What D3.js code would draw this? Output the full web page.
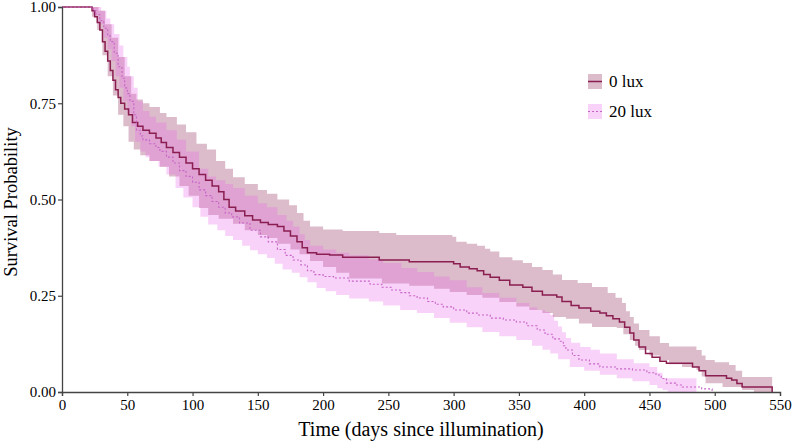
<!DOCTYPE html>
<html>
<head>
<meta charset="utf-8">
<script src="https://cdn.jsdelivr.net/npm/d3@7"></script>
<style>
body { margin: 0; background: #fff; }
svg { display: block; }
text { font-family: "Liberation Serif", "Times New Roman", serif; }
</style>
</head>
<body>
<svg id="chart" width="793" height="441"></svg>
<script>
// ---------- data ----------
const groups = ["0 lux", "20 lux"];
const xTicks = [0, 50, 100, 150, 200, 250, 300, 350, 400, 450, 500, 550];
const yTicks = [0, 0.25, 0.5, 0.75, 1.0];
const yTickLabels = ["0.00", "0.25", "0.50", "0.75", "1.00"];

// 0 lux : Kaplan-Meier estimate [time, survival]
const surv0 = [[0,1.00],[23,0.99],[25,0.975],[27,0.96],[29,0.94],[31,0.91],[33,0.885],[35,0.86],[37,0.835],[39,0.81],[41,0.785],[43,0.765],[45,0.75],[48,0.735],[51,0.72],[54,0.70],[58,0.69],[62,0.68],[67,0.672],[72,0.66],[76,0.648],[80,0.635],[85,0.622],[90,0.61],[95,0.595],[100,0.58],[105,0.565],[110,0.55],[115,0.535],[120,0.52],[124,0.50],[128,0.48],[133,0.47],[140,0.458],[146,0.447],[152,0.44],[158,0.435],[165,0.43],[170,0.418],[175,0.405],[180,0.39],[184,0.375],[188,0.362],[195,0.358],[205,0.356],[215,0.35],[243,0.343],[266,0.338],[300,0.333],[305,0.325],[312,0.32],[318,0.315],[323,0.305],[328,0.298],[335,0.29],[343,0.278],[353,0.272],[360,0.262],[368,0.252],[379,0.247],[383,0.235],[390,0.225],[396,0.218],[405,0.21],[412,0.205],[417,0.198],[422,0.19],[427,0.182],[431,0.168],[435,0.153],[438,0.135],[442,0.117],[447,0.10],[452,0.09],[458,0.08],[463,0.075],[483,0.065],[488,0.055],[493,0.042],[509,0.036],[513,0.031],[517,0.022],[521,0.013],[544,0.0]];
// 0 lux : confidence band upper [time, upper]
const upper0 = [[0,1.0],[23,1.0],[28,0.99],[33,0.955],[38,0.92],[43,0.87],[48,0.82],[53,0.775],[57,0.76],[62,0.75],[67,0.74],[75,0.725],[80,0.714],[88,0.695],[95,0.675],[103,0.645],[111,0.63],[118,0.6],[125,0.58],[131,0.558],[140,0.54],[150,0.525],[157,0.515],[165,0.5],[174,0.485],[180,0.465],[185,0.445],[190,0.43],[200,0.422],[215,0.418],[243,0.413],[256,0.408],[299,0.403],[302,0.39],[310,0.385],[318,0.38],[324,0.372],[328,0.365],[335,0.35],[345,0.342],[353,0.335],[360,0.325],[368,0.317],[376,0.305],[383,0.291],[395,0.283],[406,0.273],[418,0.257],[424,0.245],[429,0.231],[432,0.21],[435,0.195],[438,0.178],[442,0.161],[450,0.145],[458,0.127],[465,0.118],[486,0.109],[490,0.095],[493,0.083],[500,0.077],[511,0.07],[516,0.055],[521,0.039],[544,0.036]];
// 0 lux : confidence band lower [time, lower]
const lower0 = [[0,1.0],[23,0.975],[27,0.94],[31,0.875],[35,0.82],[39,0.77],[43,0.72],[47,0.69],[51,0.65],[55,0.63],[60,0.615],[67,0.60],[75,0.585],[82,0.56],[90,0.535],[97,0.51],[105,0.478],[112,0.46],[120,0.45],[131,0.437],[140,0.42],[150,0.408],[157,0.40],[165,0.385],[175,0.37],[182,0.358],[190,0.34],[200,0.325],[210,0.31],[220,0.295],[245,0.282],[266,0.276],[285,0.268],[297,0.26],[310,0.252],[322,0.245],[335,0.234],[348,0.222],[358,0.213],[368,0.205],[376,0.195],[386,0.19],[396,0.178],[406,0.169],[425,0.166],[430,0.15],[435,0.135],[439,0.12],[442,0.109],[450,0.095],[458,0.083],[465,0.072],[475,0.065],[486,0.057],[490,0.04],[493,0.023],[506,0.013],[521,0.005],[530,0.0],[544,0.0]];

// 20 lux : Kaplan-Meier estimate
const surv20 = [[0,1.0],[24,0.99],[26,0.98],[29,0.965],[32,0.945],[35,0.925],[37,0.91],[40,0.88],[43,0.845],[46,0.815],[48,0.79],[50,0.775],[52,0.755],[55,0.72],[57,0.68],[60,0.665],[62,0.655],[67,0.645],[72,0.635],[75,0.625],[80,0.61],[85,0.595],[90,0.575],[95,0.56],[100,0.545],[105,0.525],[110,0.51],[115,0.495],[120,0.48],[125,0.465],[130,0.455],[136,0.439],[144,0.42],[152,0.403],[158,0.39],[165,0.37],[171,0.355],[177,0.343],[183,0.33],[188,0.315],[193,0.305],[200,0.3],[208,0.296],[220,0.288],[236,0.28],[245,0.272],[252,0.265],[259,0.258],[266,0.25],[272,0.244],[280,0.235],[286,0.228],[292,0.221],[300,0.213],[310,0.205],[318,0.2],[328,0.192],[338,0.187],[348,0.182],[356,0.172],[364,0.161],[370,0.15],[376,0.138],[381,0.132],[384,0.12],[386,0.109],[391,0.095],[396,0.083],[404,0.073],[412,0.065],[425,0.06],[437,0.057],[448,0.05],[455,0.044],[459,0.035],[463,0.023],[470,0.018],[475,0.013],[490,0.008],[498,0.0]];
const upper20 = [[0,1.0],[24,1.0],[30,0.99],[34,0.97],[37,0.955],[40,0.93],[44,0.9],[47,0.87],[50,0.845],[52,0.82],[55,0.79],[58,0.755],[62,0.73],[67,0.715],[72,0.70],[80,0.68],[88,0.655],[95,0.625],[105,0.58],[112,0.56],[118,0.55],[125,0.54],[131,0.53],[140,0.51],[150,0.49],[157,0.48],[165,0.46],[172,0.445],[177,0.43],[182,0.41],[186,0.395],[190,0.38],[200,0.37],[210,0.362],[220,0.355],[235,0.345],[246,0.335],[260,0.322],[272,0.312],[285,0.3],[297,0.29],[310,0.272],[322,0.257],[335,0.245],[348,0.231],[358,0.22],[364,0.213],[370,0.208],[374,0.2],[377,0.185],[380,0.17],[383,0.155],[386,0.14],[390,0.128],[397,0.117],[405,0.11],[412,0.1],[425,0.085],[438,0.075],[450,0.065],[456,0.05],[460,0.036],[486,0.031]];
const lower20 = [[0,1.0],[24,0.98],[28,0.955],[32,0.92],[35,0.89],[38,0.86],[41,0.82],[44,0.79],[47,0.755],[50,0.725],[53,0.69],[56,0.65],[60,0.625],[64,0.61],[67,0.60],[74,0.585],[80,0.565],[87,0.53],[93,0.505],[100,0.48],[106,0.455],[112,0.435],[119,0.42],[125,0.405],[131,0.395],[138,0.38],[144,0.368],[150,0.358],[157,0.348],[163,0.333],[169,0.318],[176,0.31],[182,0.298],[188,0.285],[195,0.27],[202,0.262],[210,0.252],[220,0.243],[235,0.235],[246,0.225],[259,0.213],[272,0.205],[285,0.192],[297,0.18],[310,0.168],[322,0.156],[335,0.145],[348,0.135],[360,0.12],[368,0.11],[374,0.1],[380,0.085],[389,0.065],[400,0.055],[412,0.045],[425,0.036],[437,0.028],[450,0.018],[456,0.01],[460,0.005],[464,0.0],[486,0.0]];

// ---------- build ----------
function band(up, lo) {
  const times = Array.from(new Set(up.map(d => d[0]).concat(lo.map(d => d[0])))).sort((a,b)=>a-b);
  const val = (arr, t) => { let v = arr[0][1]; for (const d of arr) { if (d[0] <= t) v = d[1]; else break; } return v; };
  return times.map(t => ({t, hi: val(up, t), lo: val(lo, t)}));
}
const series = [
  {name: groups[0], surv: surv0, band: band(upper0, lower0), color: "#8b1e50", fill: "#8b1e50", dash: null, width: 1.5},
  {name: groups[1], surv: surv20, band: band(upper20, lower20), color: "#c864c8", fill: "#e86ae8", dash: "2,2", width: 1.1}
];

const svg = d3.select("#chart");
const x = d3.scaleLinear().domain([0, 550]).range([62, 780]);
const y = d3.scaleLinear().domain([0, 1]).range([392, 7]);

const area = d3.area().curve(d3.curveStepAfter)
  .x(d => x(d.t)).y0(d => y(d.lo)).y1(d => y(d.hi));
const line = d3.line().curve(d3.curveStepAfter)
  .x(d => x(d[0])).y(d => y(d[1]));

series.forEach(s => {
  svg.append("path").attr("d", area(s.band))
    .attr("fill", s.fill).attr("fill-opacity", 0.3).attr("stroke", "none");
});
series.forEach(s => {
  svg.append("path").attr("d", line(s.surv))
    .attr("fill", "none").attr("stroke", s.color).attr("stroke-width", s.width)
    .attr("stroke-dasharray", s.dash);
});

// axes
const xAxis = d3.axisBottom(x).tickValues(xTicks).tickSizeOuter(0).tickSize(4).tickPadding(3);
const yAxis = d3.axisLeft(y).tickValues(yTicks).tickFormat((d,i) => yTickLabels[i]).tickSizeOuter(0).tickSize(4).tickPadding(2);

const gx = svg.append("g").attr("transform", "translate(0,392)").call(xAxis);
const gy = svg.append("g").attr("transform", "translate(62,0)").call(yAxis);
[gx, gy].forEach(g => {
  g.select(".domain").attr("stroke", "#444").attr("stroke-width", 1.3);
  g.selectAll(".tick line").attr("stroke", "#444").attr("stroke-width", 1.2);
  g.selectAll(".tick text").attr("fill", "#000").style("font-size", "15px")
    .style("font-family", '"Liberation Serif", serif');
});

svg.append("text").attr("x", 421).attr("y", 436).attr("text-anchor", "middle")
  .style("font-size", "20px").text("Time (days since illumination)");
svg.append("text").attr("transform", "translate(17,202) rotate(-90)").attr("text-anchor", "middle")
  .style("font-size", "18.5px").text("Survival Probability");

// legend
const leg = svg.append("g");
series.forEach((s, i) => {
  const ly = 74 + i * 30;
  leg.append("rect").attr("x", 588).attr("y", ly).attr("width", 14).attr("height", 15)
    .attr("fill", s.fill).attr("fill-opacity", 0.3);
  leg.append("line").attr("x1", 588).attr("x2", 602).attr("y1", ly + 7.5).attr("y2", ly + 7.5)
    .attr("stroke", s.color).attr("stroke-width", s.width).attr("stroke-dasharray", s.dash);
  leg.append("text").attr("x", 609).attr("y", ly + 13).style("font-size", "17px").text(s.name);
});
</script>
</body>
</html>
